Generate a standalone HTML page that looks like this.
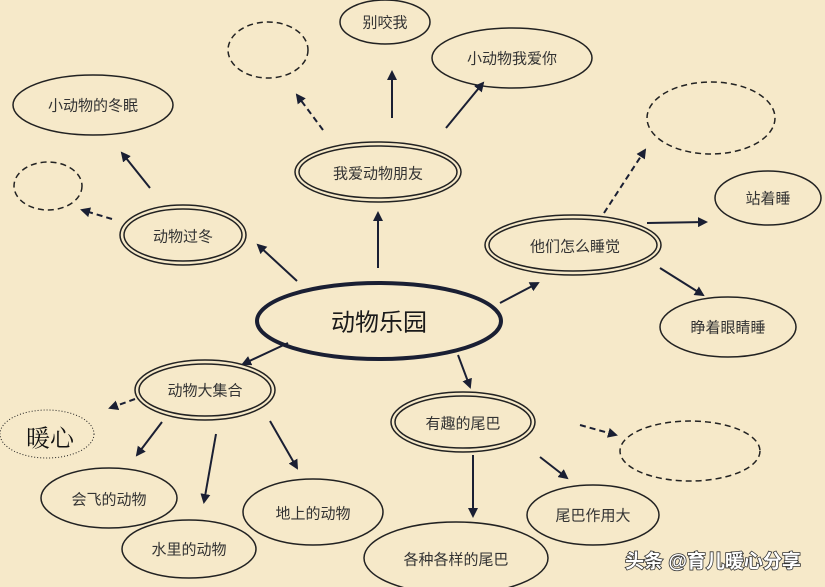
<!DOCTYPE html>
<html><head><meta charset="utf-8"><style>
html,body{margin:0;padding:0;background:#f6e9c9;}
svg{display:block}
text{font-family:"Liberation Sans","Noto Sans CJK SC",sans-serif;fill:#333;text-anchor:middle;dominant-baseline:central}
</style></head><body>
<svg width="825" height="587" viewBox="0 0 825 587" xmlns="http://www.w3.org/2000/svg">
<defs><marker id="a" markerWidth="10" markerHeight="10" refX="8" refY="5" orient="auto" markerUnits="userSpaceOnUse"><path d="M0,0 L10,5 L0,10 Z" fill="#1a1f33"/></marker></defs>
<rect width="825" height="587" fill="#f6e9c9"/>
<g fill="none" stroke="#222" stroke-width="1.5">
<ellipse cx="379" cy="321" rx="122" ry="38" stroke-width="4" stroke="#1a1f33"/>
<g>
<ellipse cx="378" cy="172" rx="83" ry="30"/><ellipse cx="378" cy="172" rx="79" ry="26"/>
<ellipse cx="183" cy="235" rx="63" ry="30"/><ellipse cx="183" cy="235" rx="59" ry="26"/>
<ellipse cx="573" cy="245" rx="88" ry="30"/><ellipse cx="573" cy="245" rx="84" ry="26"/>
<ellipse cx="205" cy="390" rx="70" ry="30"/><ellipse cx="205" cy="390" rx="66" ry="26"/>
<ellipse cx="463" cy="422" rx="72" ry="30"/><ellipse cx="463" cy="422" rx="68" ry="26"/>
</g>
<ellipse cx="385" cy="22" rx="45" ry="22"/>
<ellipse cx="512" cy="58" rx="80" ry="30"/>
<ellipse cx="93" cy="105" rx="80" ry="30"/>
<ellipse cx="768" cy="198" rx="53" ry="27"/>
<ellipse cx="728" cy="327" rx="68" ry="30"/>
<ellipse cx="109" cy="498" rx="68" ry="30"/>
<ellipse cx="189" cy="549" rx="67" ry="29"/>
<ellipse cx="313" cy="512" rx="70" ry="33"/>
<ellipse cx="456" cy="558" rx="92" ry="36"/>
<ellipse cx="593" cy="515" rx="66" ry="30"/>
<g stroke-dasharray="6,4">
<ellipse cx="268" cy="50" rx="40" ry="28"/>
<ellipse cx="48" cy="186" rx="34" ry="24"/>
<ellipse cx="711" cy="118" rx="64" ry="36"/>
<ellipse cx="690" cy="451" rx="70" ry="30"/>
</g>
<ellipse cx="47" cy="434" rx="47" ry="24" stroke-dasharray="1,2" stroke-width="1"/>
</g>
<g stroke="#1a1f33" stroke-width="2" marker-end="url(#a)" fill="none">
<line x1="378" y1="268" x2="378" y2="213"/>
<line x1="297" y1="281" x2="258" y2="245"/>
<line x1="150" y1="188" x2="122" y2="153"/>
<line x1="392" y1="118" x2="392" y2="72"/>
<line x1="446" y1="128" x2="483" y2="83"/>
<line x1="500" y1="303" x2="538" y2="283"/>
<line x1="647" y1="223" x2="706" y2="222"/>
<line x1="660" y1="268" x2="703" y2="295"/>
<line x1="288" y1="343" x2="243" y2="364"/>
<line x1="162" y1="422" x2="137" y2="455"/>
<line x1="216" y1="434" x2="204" y2="502"/>
<line x1="270" y1="421" x2="297" y2="468"/>
<line x1="458" y1="355" x2="470" y2="387"/>
<line x1="473" y1="455" x2="473" y2="516"/>
<line x1="540" y1="457" x2="567" y2="478"/>
<g stroke-dasharray="6,4">
<line x1="112" y1="219" x2="82" y2="210"/>
<line x1="323" y1="130" x2="297" y2="95"/>
<line x1="604" y1="213" x2="645" y2="150"/>
<line x1="135" y1="399" x2="110" y2="408"/>
<line x1="580" y1="425" x2="616" y2="435"/>
</g>
</g>
<text x="379" y="323" font-size="24" style="fill:#1a1a1a">动物乐园</text>
<g font-size="15">
<text x="378" y="174">我爱动物朋友</text>
<text x="183" y="237">动物过冬</text>
<text x="575" y="247">他们怎么睡觉</text>
<text x="205" y="391">动物大集合</text>
<text x="463" y="424">有趣的尾巴</text>
<text x="385" y="23">别咬我</text>
<text x="512" y="59">小动物我爱你</text>
<text x="93" y="106">小动物的冬眠</text>
<text x="768" y="199">站着睡</text>
<text x="728" y="328">睁着眼睛睡</text>
<text x="109" y="500">会飞的动物</text>
<text x="189" y="550">水里的动物</text>
<text x="313" y="514">地上的动物</text>
<text x="456" y="560">各种各样的尾巴</text>
<text x="593" y="516">尾巴作用大</text>
</g>
<text x="50" y="436" font-size="24" style="fill:#111;font-family:'Noto Serif CJK SC',serif">暖心</text>
<text x="713" y="562" font-size="19" style="fill:#fff;stroke:#333;stroke-width:1.6;paint-order:stroke;font-weight:bold">头条 @育儿暖心分享</text>
</svg>
</body></html>
